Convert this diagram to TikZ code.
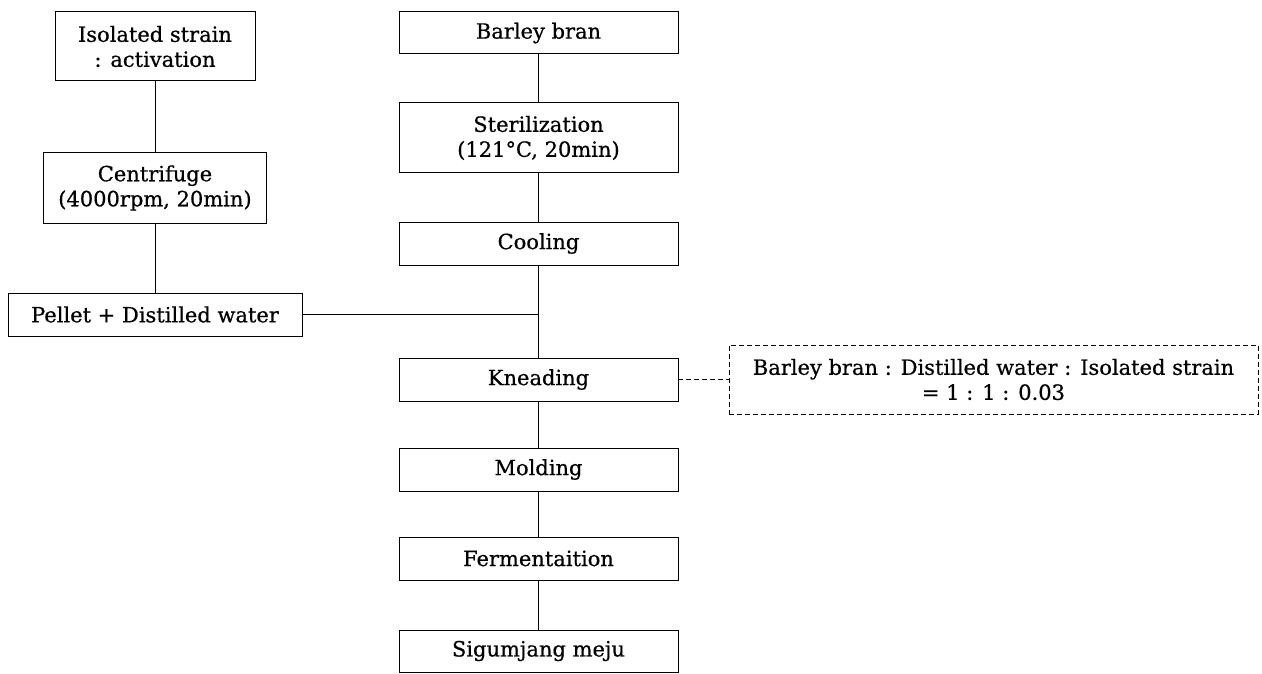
\documentclass[tikz,border=0pt]{standalone}
\usepackage{fontspec}
\setmainfont[FakeBold=0.6]{DejaVu Serif}
\usepackage{tikz}
\usetikzlibrary{positioning}
\tikzset{
  step box/.style={draw=black,line width=1pt,align=center,inner sep=0pt,outer sep=0pt,font=\fontsize{21}{25}\selectfont,minimum width=279pt,minimum height=43pt},
  tall box/.style={step box,minimum height=70pt},
  note box/.style={step box,dashed,dash pattern=on 5pt off 3pt,minimum width=529pt,minimum height=69pt},
  ln/.style={draw=black,line width=1pt},
}
\begin{document}
\begin{tikzpicture}[x=1pt,y=-1pt]
  \useasboundingbox (0,0) rectangle (1262,674);
  \node[step box,minimum height=42pt] (barley) at (538.5,33) {Barley bran};
  \node[tall box,below=49pt of barley] (steril) {Sterilization\\(121°C, 20min)};
  \node[step box,below=49pt of steril] (cool) {Cooling};
  \node[step box,below=93pt of cool] (knead) {Kneading};
  \node[step box,below=47pt of knead] (mold) {Molding};
  \node[step box,below=46pt of mold] (ferm) {Fermentaition};
  \node[step box,minimum height=42pt,below=50pt of ferm] (meju) {Sigumjang meju};
  \node[tall box,minimum width=200pt,minimum height=69pt] (strain) at (155,46.5) {Isolated strain\\: activation};
  \node[tall box,minimum width=223pt,below=72pt of strain] (centri) {Centrifuge\\(4000rpm, 20min)};
  \node[step box,minimum width=294pt,below=70pt of centri] (pellet) {Pellet + Distilled water};
  \node[note box,right=51pt of knead] (ratio) {Barley bran : Distilled water : Isolated strain\\= 1 : 1 : 0.03};
  \coordinate (join) at (pellet -| cool);

  \draw[ln] (barley) -- (steril);
  \draw[ln] (steril) -- (cool);
  \draw[ln] (cool) -- (knead);
  \draw[ln] (knead) -- (mold);
  \draw[ln] (mold) -- (ferm);
  \draw[ln] (ferm) -- (meju);
  \draw[ln] (strain) -- (centri);
  \draw[ln] (centri) -- (pellet);
  \draw[ln] (pellet) -- (join);
  \draw[ln,dashed,dash pattern=on 5pt off 3pt] (knead) -- (ratio);
\end{tikzpicture}
\end{document}
